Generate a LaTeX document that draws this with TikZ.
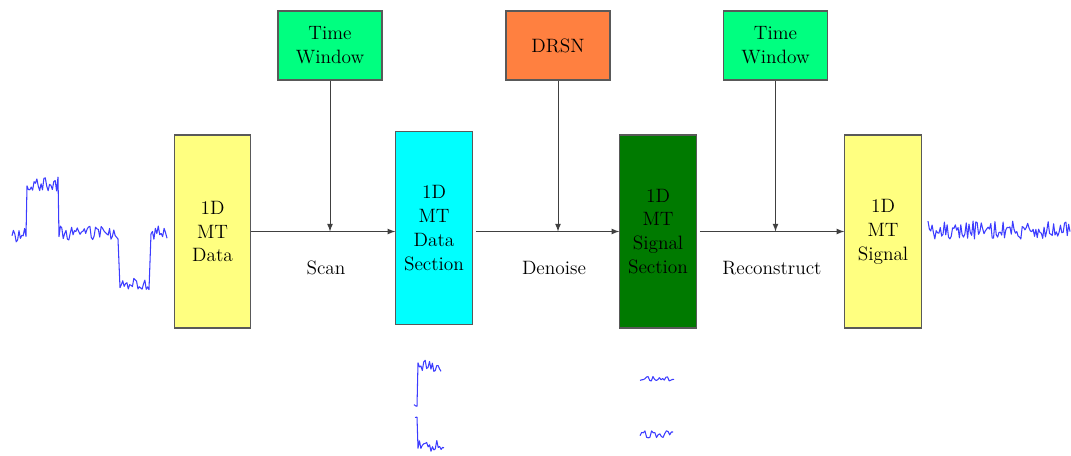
\documentclass[tikz,border=0pt]{standalone}
\usetikzlibrary{positioning}
\definecolor{pale}{RGB}{255,255,128}
\definecolor{aqua}{RGB}{0,255,255}
\definecolor{deep}{RGB}{0,122,0}
\definecolor{spring}{RGB}{0,255,128}
\definecolor{tang}{RGB}{255,128,64}
\definecolor{trace}{RGB}{60,60,255}
\begin{document}
\begin{tikzpicture}[x=0.02cm, y=-0.02cm, font=\fontsize{11}{13.6}\selectfont,
    blk/.style={draw=black!65, line width=0.6pt, align=center, inner sep=0pt},
    tall/.style={blk, minimum width=1.53cm, minimum height=3.86cm},
    tool/.style={blk, minimum width=2.08cm, minimum height=1.38cm},
    flow/.style={-latex, draw=black!75, line width=0.5pt},
    sig/.style={draw=trace, line width=0.6pt, line join=round}]
  \useasboundingbox (0,0) rectangle (1071,456);
  %processing chain
    \node[tall, fill=pale] (data) at (212.5,231.5) {1D\\MT\\Data};
    \node[tall, fill=aqua] (sect) at (434,228) {1D\\MT\\Data\\Section};
    \node[tall, fill=deep] (clean) at (658,231.5) {1D\\MT\\Signal\\Section};
    \node[tall, fill=pale] (out) at (883,231.5) {1D\\MT\\Signal};
    \node[tool, fill=spring] (win1) at (330,45.5) {Time\\Window};
    \node[tool, fill=tang] (drsn) at (558,45.5) {DRSN};
    \node[tool, fill=spring] (win2) at (775.5,45.5) {Time\\Window};
    \draw[flow] (data.east) -- (data.east -| sect.west);
    \draw[flow] (data.east -| sect.east) ++(3,0) -- (data.east -| clean.west);
    \draw[flow] (data.east -| clean.east) ++(3,0) -- (data.east -| out.west);
    \draw[flow] (win1) -- (win1 |- data.east);
    \draw[flow] (drsn) -- (drsn |- data.east);
    \draw[flow] (win2) -- (win2 |- data.east);
    \node (scan) at (326,268) {Scan};
    \node (denoise) at (554,268) {Denoise};
    \node (rebuild) at (772,268) {Reconstruct};
  %noisy traces
    \pgfmathsetseed{7}
    \draw[sig] plot[domain=12:26, samples=11] (\x,{234+8*rand})
      -- plot[domain=27:58, samples=23] (\x,{184+7*rand})
      -- plot[domain=59:118, samples=43] (\x,{233+7*rand})
      -- plot[domain=120:149, samples=22] (\x,{284+6*rand})
      -- plot[domain=151:167, samples=12] (\x,{233+7*rand});
    \draw[sig] plot[domain=928:1070, samples=105] (\x,{230+9*rand});
    \draw[sig] plot[domain=414:417, samples=3] (\x,{401+6*rand})
      -- plot[domain=418:441, samples=17] (\x,{366+6*rand});
    \draw[sig] plot[domain=415:417, samples=2] (\x,{419+4*rand})
      -- plot[domain=418:444, samples=19] (\x,{446+6*rand});
    \draw[sig] plot[domain=640:674, samples=22] (\x,{379+3*rand});
    \draw[sig] plot[domain=640:673, samples=21] (\x,{434+4*rand});
\end{tikzpicture}
\end{document}
